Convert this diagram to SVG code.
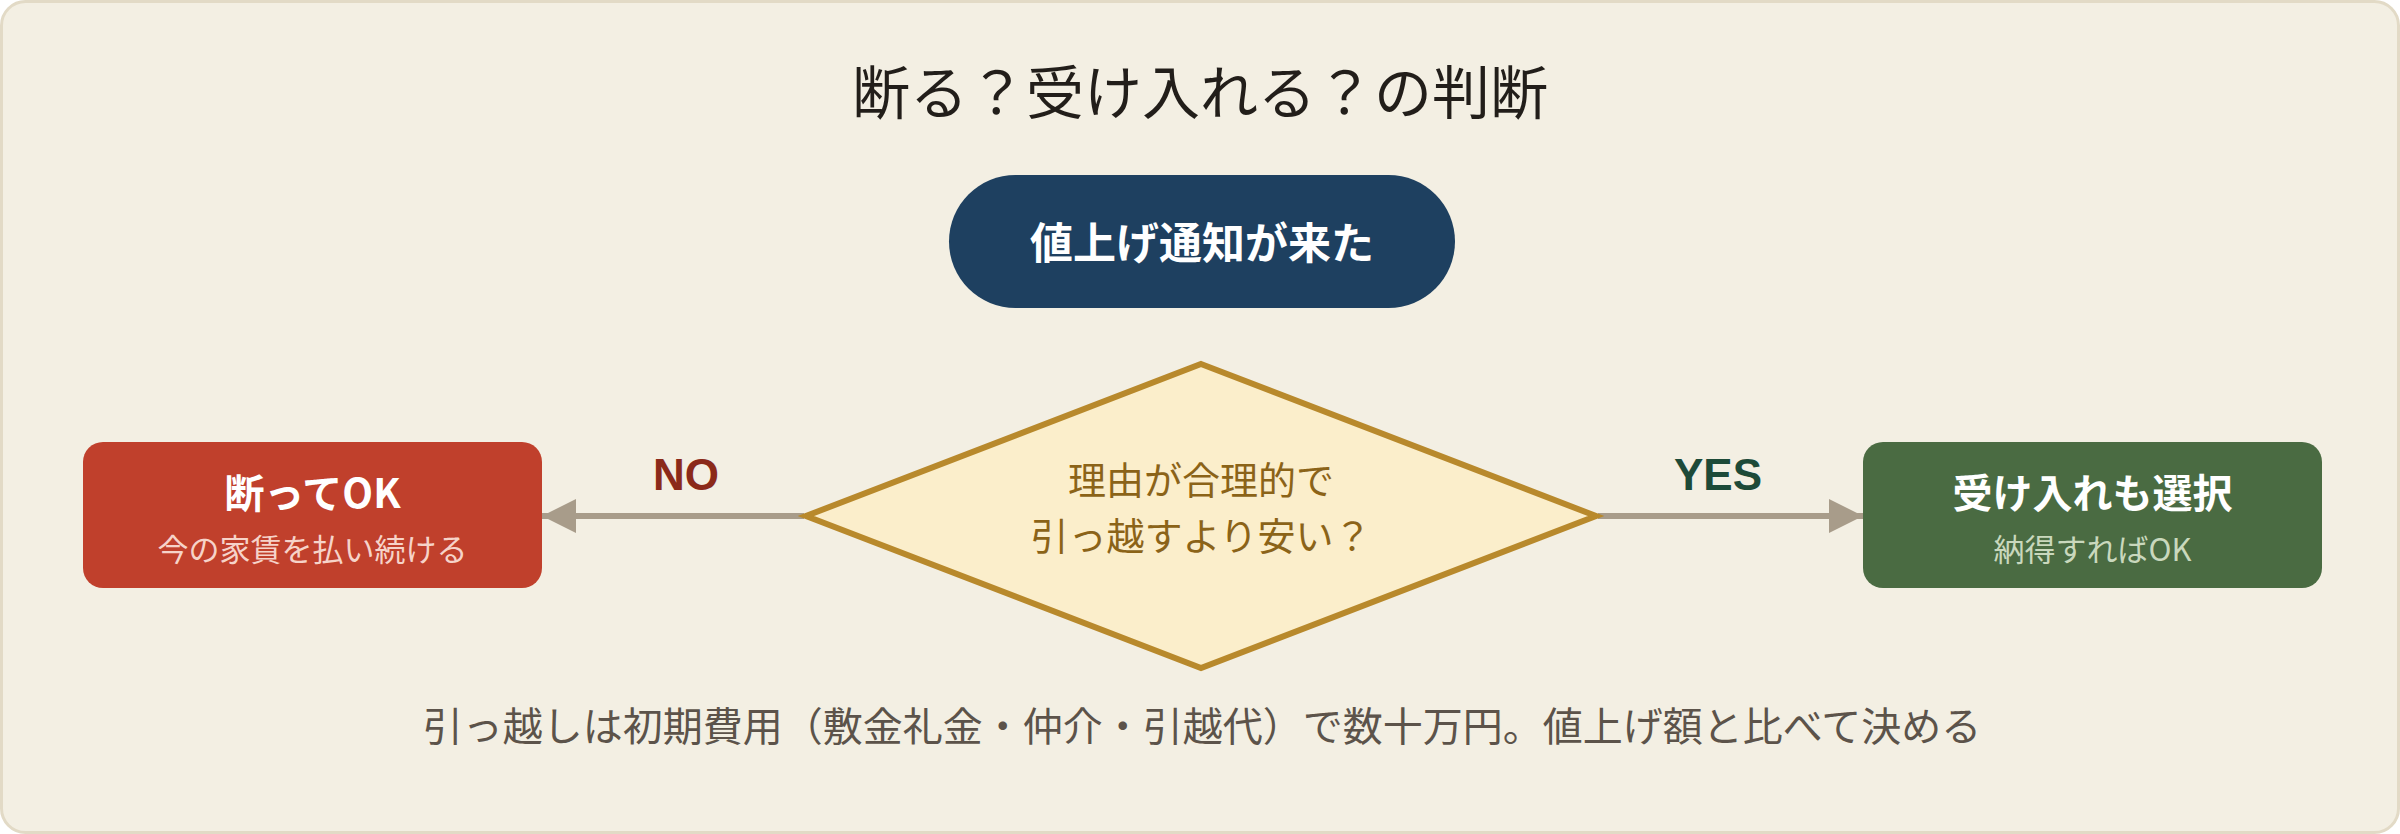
<svg xmlns="http://www.w3.org/2000/svg" width="2400" height="834" viewBox="0 0 2400 834">
  <defs>
    <style>
      .cjk { font-family: "Noto Sans CJK JP", "Liberation Sans", sans-serif; }
      .title { font-family: "Liberation Serif", "Noto Sans CJK JP", serif; font-size: 58px; fill: #221e1a; }
      .head { font-weight: 700; fill: #ffffff; }
      .lbl { font-family: "Liberation Sans", "Noto Sans CJK JP", sans-serif; font-weight: 700; font-size: 44px; }
      .conn { stroke: #a89c8a; stroke-width: 6; fill: none; }
    </style>
    <marker id="arr" viewBox="0 0 34 34" refX="34" refY="17" markerUnits="userSpaceOnUse" markerWidth="34" markerHeight="34" orient="auto">
      <path d="M0,0 L34,17 L0,34 Z" fill="#a89c8a"/>
    </marker>
  </defs>

  <rect id="background" x="1.5" y="1.5" width="2397" height="831" rx="24" fill="#f3efe3" stroke="#e2dac6" stroke-width="3"/>

  <text id="title" class="title" x="1200" y="114" text-anchor="middle">断る？受け入れる？の判断</text>

  <g id="connectors">
    <line class="conn" x1="804" y1="516" x2="542" y2="516" marker-end="url(#arr)"/>
    <line class="conn" x1="1598" y1="516" x2="1863" y2="516" marker-end="url(#arr)"/>
    <text class="lbl" x="686" y="490" text-anchor="middle" fill="#8b2a1a">NO</text>
    <text class="lbl" x="1718" y="490" text-anchor="middle" fill="#1d4a38">YES</text>
  </g>

  <g id="start">
    <rect x="949" y="175" width="506" height="133" rx="66.5" fill="#1e4060"/>
    <text class="cjk head" x="1202" y="259" text-anchor="middle" font-size="43">値上げ通知が来た</text>
  </g>

  <g id="decision">
    <polygon points="1201,364 1596,516 1201,668 806,516" fill="#fbeecb" stroke="#b8892c" stroke-width="6"/>
    <text class="cjk" x="1201" y="494" text-anchor="middle" font-size="38" fill="#8b6318">理由が合理的で</text>
    <text class="cjk" x="1201" y="550" text-anchor="middle" font-size="38" fill="#8b6318">引っ越すより安い？</text>
  </g>

  <g id="refuse">
    <rect x="83" y="442" width="459" height="146" rx="20" fill="#c0402c"/>
    <text class="cjk head" x="312.5" y="508" text-anchor="middle" font-size="40">断ってOK</text>
    <text class="cjk" x="312.5" y="561" text-anchor="middle" font-size="31" fill="#f6d3c9">今の家賃を払い続ける</text>
  </g>

  <g id="accept">
    <rect x="1863" y="442" width="459" height="146" rx="20" fill="#4a6b42"/>
    <text class="cjk head" x="2092.5" y="508" text-anchor="middle" font-size="40">受け入れも選択</text>
    <text class="cjk" x="2092.5" y="561" text-anchor="middle" font-size="31" fill="#c9d8bd">納得すればOK</text>
  </g>

  <text id="note" class="cjk" x="1202" y="741" text-anchor="middle" font-size="40" fill="#5c534a">引っ越しは初期費用（敷金礼金・仲介・引越代）で数十万円。値上げ額と比べて決める</text>
</svg>
